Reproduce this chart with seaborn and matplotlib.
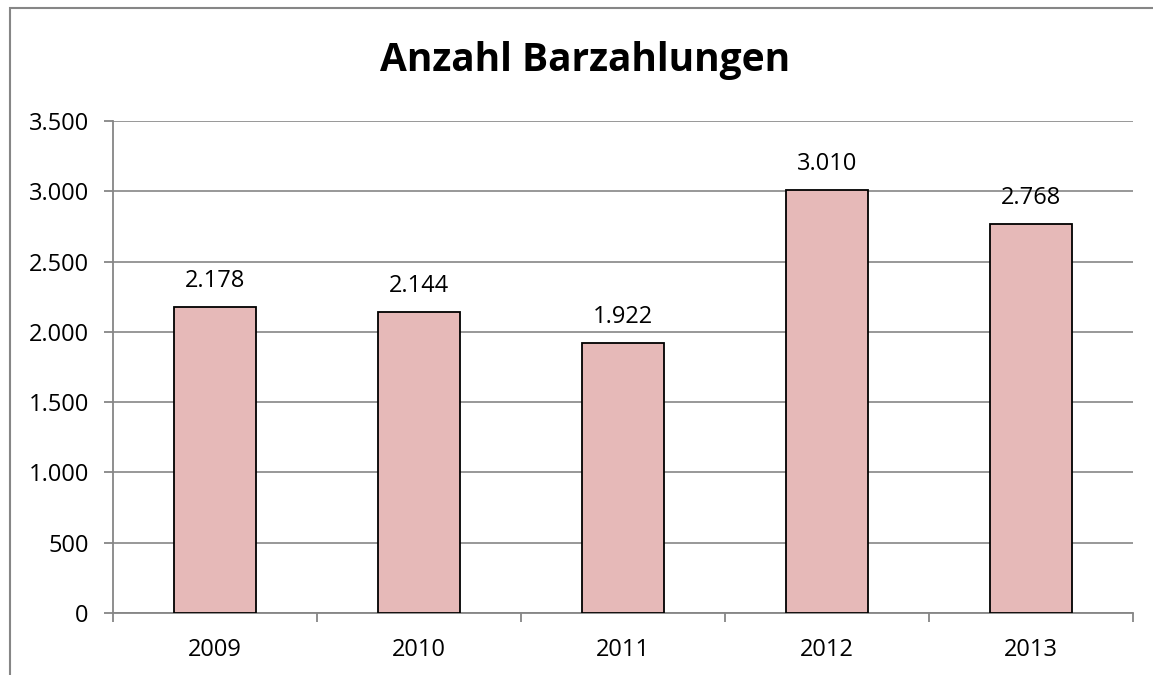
import matplotlib
matplotlib.use("Agg")
import matplotlib.pyplot as plt
import seaborn as sns
import pandas as pd
from matplotlib.ticker import FuncFormatter, FixedLocator
from matplotlib.patches import Rectangle

years = ["2009", "2010", "2011", "2012", "2013"]
values = [2178, 2144, 1922, 3010, 2768]
title = "Anzahl Barzahlungen"

sns.set_style("white")
plt.rcParams['font.family'] = ['Open Sans', 'DejaVu Sans']
plt.rcParams['text.color'] = 'black'
plt.rcParams['xtick.color'] = 'black'
plt.rcParams['ytick.color'] = 'black'

W, H = 1153, 675
fig = plt.figure(figsize=(W / 100, H / 100), dpi=100)
ax = fig.add_axes([113 / W, 1 - 613 / H, (1133 - 113) / W, (613 - 121) / H])

gray = "#868686"
df = pd.DataFrame({"year": years, "value": values})
sns.barplot(data=df, x="year", y="value", color="#E6B9B8", edgecolor="black",
            linewidth=1.3, width=0.4, saturation=1, ax=ax, zorder=3)

ax.set_xlim(-0.5, len(years) - 0.5)
ax.set_ylim(0, 3500)
ax.set_yticks(range(0, 3501, 500))
ax.yaxis.set_major_formatter(FuncFormatter(lambda v, p: f"{int(v):,}".replace(",", ".")))
ax.grid(axis="y", color=gray, linewidth=1.2, zorder=0)
ax.set_axisbelow(True)
ax.set_xlabel("")
ax.set_ylabel("")

for s in ["top", "right"]:
    ax.spines[s].set_visible(False)
for s in ["left", "bottom"]:
    ax.spines[s].set_color(gray)
    ax.spines[s].set_linewidth(1.3)

ax.tick_params(axis="y", length=6.5, width=1.3, color=gray, labelcolor="black", pad=11, labelsize=17, left=True)
ax.tick_params(axis="x", which="major", length=0, pad=18, labelsize=17, labelcolor="black")
ax.xaxis.set_minor_locator(FixedLocator([i - 0.5 for i in range(len(years) + 1)]))
ax.tick_params(axis="x", which="minor", length=6.5, width=1.3, color=gray, bottom=True)

for i, v in enumerate(values):
    ax.annotate(f"{v:,}".replace(",", "."), (i, v), xytext=(0, 10), textcoords="offset points",
                ha="center", va="bottom", fontsize=17, color="black")

fig.text(585 / W, 1 - 61 / H, title, ha="center", va="center", fontsize=28,
         fontweight="bold", color="black")

fig.patches.append(Rectangle((10 / W, -0.1), 1.2, 1 - 8 / H + 0.1, transform=fig.transFigure,
                             fill=False, edgecolor=gray, linewidth=1.5))

fig.savefig("out.png", dpi=100)
